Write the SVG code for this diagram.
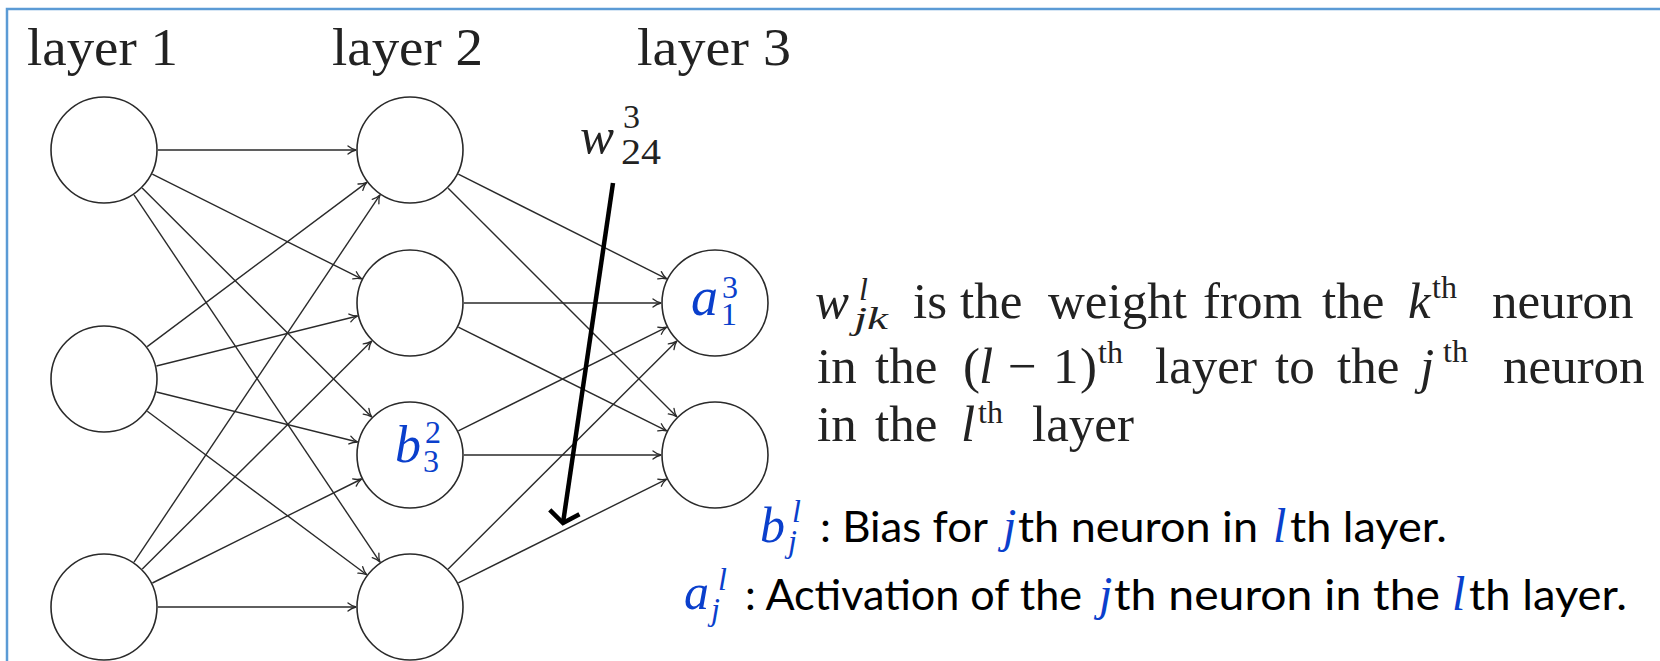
<svg xmlns="http://www.w3.org/2000/svg" width="1660" height="661" viewBox="0 0 1660 661">
<defs>
<style>
.node{fill:#fff;stroke:#2a2a2a;stroke-width:1.6}
.edge{fill:none;stroke:#2a2a2a;stroke-width:1.4;marker-end:url(#tip)}
.cm{font-family:"Liberation Serif","Times New Roman",serif;fill:#222}
.it{font-style:italic}
.blue{font-family:"Liberation Serif","Times New Roman",serif;fill:#0a3fcc}
.cal{font-family:Lato,"Liberation Sans",sans-serif;fill:#000;font-size:42px}
</style>
<marker id="tip" markerUnits="userSpaceOnUse" viewBox="-10 -6 12 12" refX="0" refY="0" markerWidth="12" markerHeight="12" orient="auto" overflow="visible">
<path d="M-8,-4 C-5,-1.6 -2,-0.5 0,0 C-2,0.5 -5,1.6 -8,4" fill="none" stroke="#2a2a2a" stroke-width="1.3" stroke-linecap="round"/>
</marker>
<marker id="bigtip" markerUnits="userSpaceOnUse" viewBox="-20 -20 24 40" refX="0" refY="0" markerWidth="24" markerHeight="40" orient="auto" overflow="visible">
<path d="M-11,-15 L0,0 L-11,15" fill="none" stroke="#000" stroke-width="4.5"/>
</marker>
</defs>
<rect width="1660" height="661" fill="#fff"/>
<path d="M7,661 V9 H1660" fill="none" stroke="#5b9bd5" stroke-width="2.5"/>

<g id="layer-labels" class="cm" font-size="52">
<text x="27" y="65" textLength="151" lengthAdjust="spacingAndGlyphs">layer 1</text>
<text x="332" y="65" textLength="151" lengthAdjust="spacingAndGlyphs">layer 2</text>
<text x="637" y="65" textLength="154" lengthAdjust="spacingAndGlyphs">layer 3</text>
</g>

<g id="n-l1-1"><circle class="node" cx="104" cy="150" r="53"/></g>
<g id="n-l1-2"><circle class="node" cx="104" cy="379" r="53"/></g>
<g id="n-l1-3"><circle class="node" cx="104" cy="607" r="53"/></g>
<g id="n-l2-1"><circle class="node" cx="410" cy="150" r="53"/></g>
<g id="n-l2-2"><circle class="node" cx="410" cy="303" r="53"/></g>
<g id="n-l2-3"><circle class="node" cx="410" cy="455" r="53"/>
<text class="blue it" x="395" y="462" font-size="52">b</text>
<text class="blue" x="425" y="443" font-size="32">2</text>
<text class="blue" x="423" y="472" font-size="32">3</text>
</g>
<g id="n-l2-4"><circle class="node" cx="410" cy="607" r="53"/></g>
<g id="n-l3-1"><circle class="node" cx="715" cy="303" r="53"/>
<text class="blue it" x="691" y="315" font-size="54">a</text>
<text class="blue" x="722" y="298" font-size="32">3</text>
<text class="blue" x="721" y="325" font-size="32">1</text>
</g>
<g id="n-l3-2"><circle class="node" cx="715" cy="455" r="53"/></g>

<g id="connectors">
<line class="edge" x1="158" y1="150" x2="356" y2="150"/>
<line class="edge" x1="152.3" y1="174.2" x2="361.7" y2="278.9"/>
<line class="edge" x1="142.2" y1="188.1" x2="371.7" y2="416.9"/>
<line class="edge" x1="134" y1="194.9" x2="380" y2="562.1"/>
<line class="edge" x1="147.2" y1="346.6" x2="366.8" y2="182.4"/>
<line class="edge" x1="156.4" y1="366" x2="357.6" y2="316"/>
<line class="edge" x1="156.4" y1="392" x2="357.6" y2="442"/>
<line class="edge" x1="147.3" y1="411.3" x2="366.7" y2="574.7"/>
<line class="edge" x1="134" y1="562.1" x2="380" y2="194.9"/>
<line class="edge" x1="142.3" y1="568.9" x2="371.7" y2="341.1"/>
<line class="edge" x1="152.4" y1="583" x2="361.6" y2="479"/>
<line class="edge" x1="158" y1="607" x2="356" y2="607"/>
<line class="edge" x1="458.3" y1="174.2" x2="666.7" y2="278.8"/>
<line class="edge" x1="448.2" y1="188.2" x2="676.8" y2="416.8"/>
<line class="edge" x1="464" y1="303" x2="661" y2="303"/>
<line class="edge" x1="458.3" y1="327.1" x2="666.7" y2="430.9"/>
<line class="edge" x1="458.3" y1="430.9" x2="666.7" y2="327.1"/>
<line class="edge" x1="464" y1="455" x2="661" y2="455"/>
<line class="edge" x1="448.2" y1="568.9" x2="676.8" y2="341.1"/>
<line class="edge" x1="458.3" y1="582.9" x2="666.7" y2="479.1"/>
<line id="w-pointer" x1="613" y1="183" x2="563" y2="523" stroke="#000" stroke-width="4.5" marker-end="url(#bigtip)"/>
</g>

<g id="w-label" class="cm">
<text class="it" x="580" y="153" font-size="51">w</text>
<text x="623" y="128" font-size="34">3</text>
<text x="621" y="164" font-size="36" textLength="40" lengthAdjust="spacingAndGlyphs">24</text>
</g>

<g id="weight-definition" class="cm" font-size="51">
<text x="815" y="318" class="it">w</text>
<text x="859" y="300" class="it" font-size="32">l</text>
<text x="854" y="329" class="it" font-size="32" textLength="34" lengthAdjust="spacingAndGlyphs">jk</text>
<text y="318"><tspan x="913">is</tspan><tspan x="960">the</tspan><tspan x="1048">weight</tspan><tspan x="1203">from</tspan><tspan x="1322">the</tspan><tspan x="1408" font-style="italic">k</tspan><tspan x="1492">neuron</tspan></text>
<text x="1432" y="298" font-size="32">th</text>
<text y="383"><tspan x="817">in</tspan><tspan x="875">the</tspan><tspan x="963">(</tspan><tspan x="979" font-style="italic">l</tspan><tspan x="1008">−</tspan><tspan x="1053">1</tspan><tspan x="1080">)</tspan><tspan x="1155">layer</tspan><tspan x="1275">to</tspan><tspan x="1337">the</tspan><tspan x="1420" font-style="italic">j</tspan><tspan x="1503">neuron</tspan></text>
<text x="1098" y="363" font-size="32">th</text>
<text x="1443" y="362" font-size="32">th</text>
<text y="441"><tspan x="817">in</tspan><tspan x="875">the</tspan><tspan x="961" font-style="italic">l</tspan><tspan x="1032">layer</tspan></text>
<text x="978" y="423" font-size="32">th</text>
</g>

<g id="bias-definition">
<text class="blue it" x="760" y="542" font-size="50">b</text>
<text class="blue it" x="792" y="522" font-size="32">l</text>
<text class="blue it" x="788" y="552" font-size="32">j</text>
<text class="cal" x="820" y="542" textLength="168" lengthAdjust="spacingAndGlyphs">: Bias for</text>
<text class="blue it" x="1003" y="542" font-size="48">j</text>
<text class="cal" x="1018" y="542" textLength="240" lengthAdjust="spacingAndGlyphs">th neuron in</text>
<text class="blue it" x="1273" y="542" font-size="48">l</text>
<text class="cal" x="1290" y="542" textLength="157" lengthAdjust="spacingAndGlyphs">th layer.</text>
</g>

<g id="activation-definition">
<text class="blue it" x="684" y="609" font-size="50">a</text>
<text class="blue it" x="718" y="590" font-size="32">l</text>
<text class="blue it" x="711" y="620" font-size="32">j</text>
<text class="cal" x="745" y="610" textLength="337" lengthAdjust="spacingAndGlyphs">: Activation of the</text>
<text class="blue it" x="1099" y="610" font-size="48">j</text>
<text class="cal" x="1114" y="610" textLength="326" lengthAdjust="spacingAndGlyphs">th neuron in the</text>
<text class="blue it" x="1452" y="610" font-size="48">l</text>
<text class="cal" x="1469" y="610" textLength="158" lengthAdjust="spacingAndGlyphs">th layer.</text>
</g>
</svg>
